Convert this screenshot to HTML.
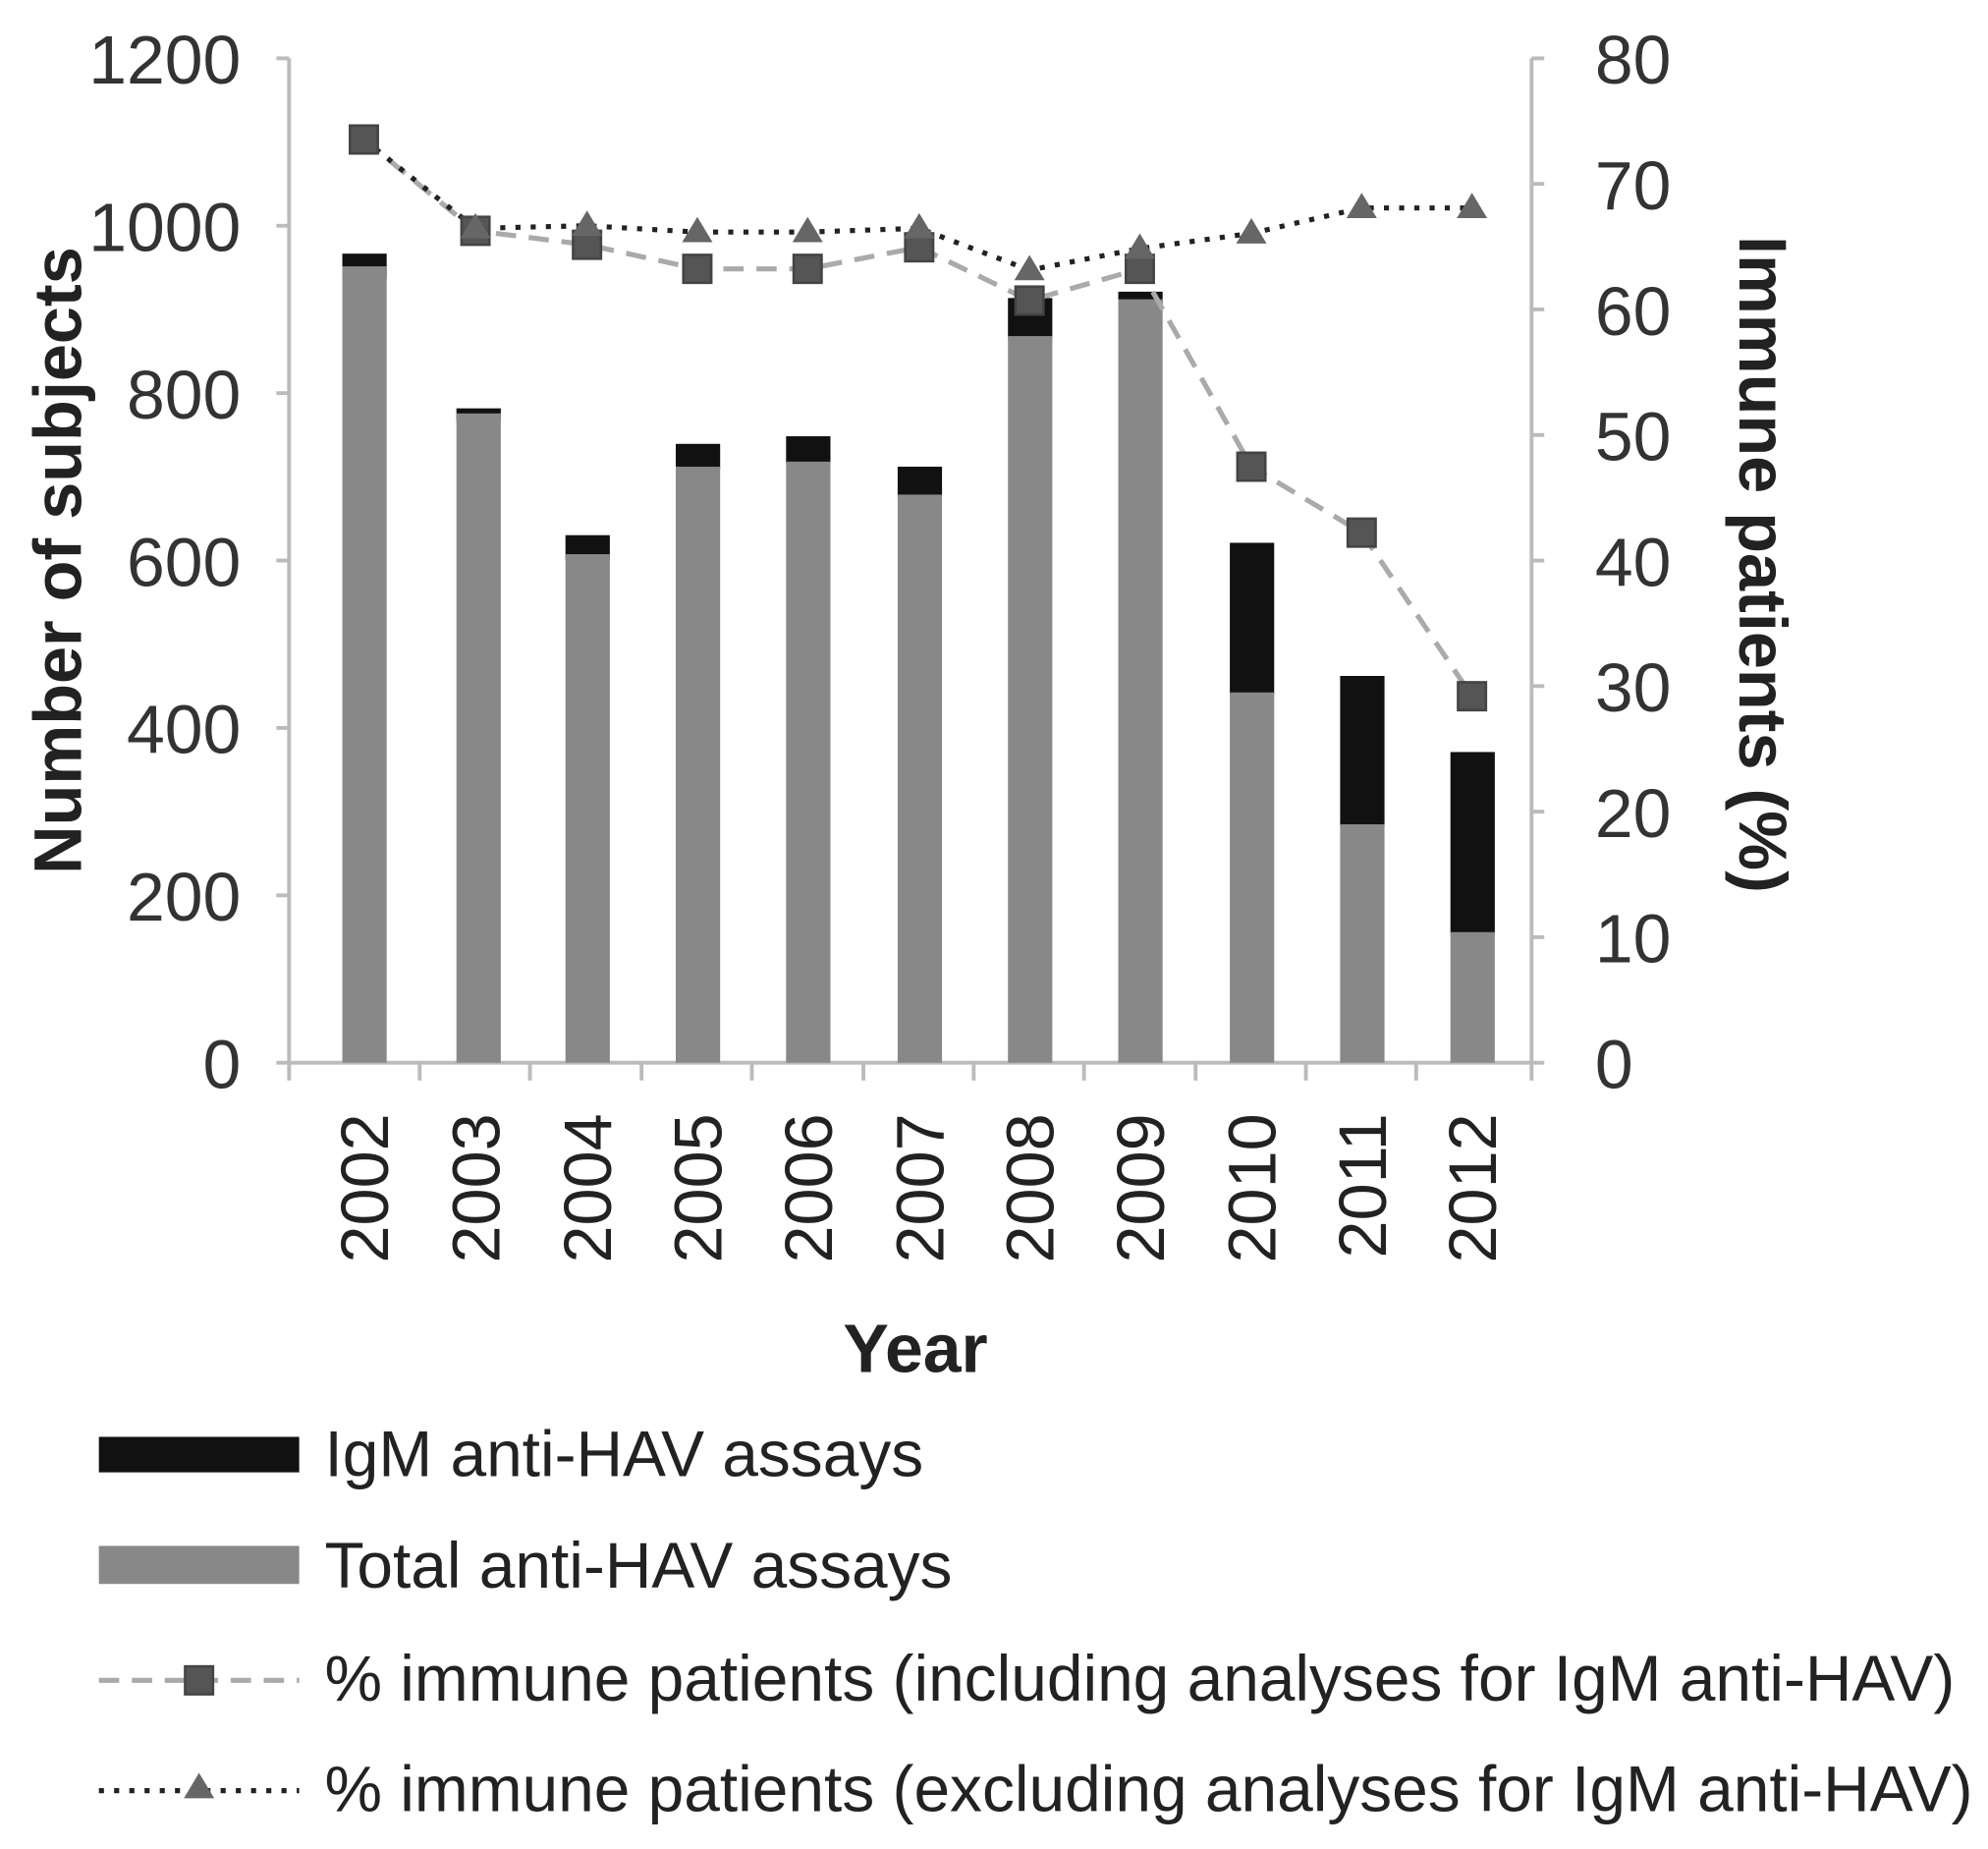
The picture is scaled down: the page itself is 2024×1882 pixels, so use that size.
<!DOCTYPE html>
<html><head><style>html,body{margin:0;padding:0;background:#fff}svg{display:block}</style></head>
<body>
<svg width="2024" height="1882" viewBox="0 0 1568 1458" preserveAspectRatio="none" xmlns="http://www.w3.org/2000/svg" font-family="Liberation Sans, sans-serif">
<g stroke="#bbb" stroke-width="3" fill="none">
<line x1="228" y1="46" x2="228" y2="852"/>
<line x1="1208" y1="46" x2="1208" y2="838"/>
<line x1="228" y1="838" x2="1208" y2="838"/>
<line x1="218" y1="46" x2="228" y2="46"/><line x1="218" y1="178" x2="228" y2="178"/><line x1="218" y1="310" x2="228" y2="310"/><line x1="218" y1="442" x2="228" y2="442"/><line x1="218" y1="574" x2="228" y2="574"/><line x1="218" y1="706" x2="228" y2="706"/><line x1="218" y1="838" x2="228" y2="838"/>
<line x1="1208" y1="46" x2="1218" y2="46"/><line x1="1208" y1="145" x2="1218" y2="145"/><line x1="1208" y1="244" x2="1218" y2="244"/><line x1="1208" y1="343" x2="1218" y2="343"/><line x1="1208" y1="442" x2="1218" y2="442"/><line x1="1208" y1="541" x2="1218" y2="541"/><line x1="1208" y1="640" x2="1218" y2="640"/><line x1="1208" y1="739" x2="1218" y2="739"/><line x1="1208" y1="838" x2="1218" y2="838"/>
<line x1="331" y1="838" x2="331" y2="852"/><line x1="418" y1="838" x2="418" y2="852"/><line x1="506" y1="838" x2="506" y2="852"/><line x1="593" y1="838" x2="593" y2="852"/><line x1="681" y1="838" x2="681" y2="852"/><line x1="768" y1="838" x2="768" y2="852"/><line x1="855" y1="838" x2="855" y2="852"/><line x1="943" y1="838" x2="943" y2="852"/><line x1="1030" y1="838" x2="1030" y2="852"/><line x1="1117" y1="838" x2="1117" y2="852"/><line x1="1208" y1="838" x2="1208" y2="852"/>
</g>
<g fill="#111">
<rect x="270" y="200" width="35" height="20"/><rect x="360" y="322" width="35" height="10"/>
<rect x="446" y="422" width="35" height="20"/><rect x="533" y="350" width="35" height="20"/>
<rect x="620" y="344" width="35" height="22"/><rect x="708" y="368" width="35" height="24"/>
<rect x="795" y="235" width="35" height="32"/><rect x="882" y="230" width="35" height="10"/>
<rect x="970" y="428" width="35" height="120"/><rect x="1057" y="533" width="35" height="119"/>
<rect x="1144" y="593" width="35" height="144"/>
</g>
<g fill="#888">
<rect x="270" y="210" width="35" height="628"/>
<rect x="360" y="326" width="35" height="512"/>
<rect x="446" y="437" width="35" height="401"/><rect x="533" y="368" width="35" height="470"/>
<rect x="620" y="364" width="35" height="474"/><rect x="708" y="390" width="35" height="448"/>
<rect x="795" y="265" width="35" height="573"/><rect x="882" y="236" width="35" height="602"/>
<rect x="970" y="546" width="35" height="292"/><rect x="1057" y="650" width="35" height="188"/>
<rect x="1144" y="735" width="35" height="103"/>
</g>
<polyline fill="none" stroke="#aaa" stroke-width="4" stroke-dasharray="16,10" points="287,110 375,182 463,193 550,212 637,212 725,195 812,237 899,212 987,368 1074,420 1161,549"/>
<polyline fill="none" stroke="#222" stroke-width="4" stroke-dasharray="4,8" points="287,110 375,180 463,178 550,183 637,183 725,180 812,213 899,196 987,184 1074,164 1161,164"/>
<g fill="#555" stroke="#444" stroke-width="2">
<rect x="276" y="99" width="22" height="22"/><rect x="364" y="171" width="22" height="22"/><rect x="452" y="182" width="22" height="22"/><rect x="539" y="201" width="22" height="22"/><rect x="626" y="201" width="22" height="22"/><rect x="714" y="184" width="22" height="22"/><rect x="801" y="226" width="22" height="22"/><rect x="888" y="201" width="22" height="22"/><rect x="976" y="357" width="22" height="22"/><rect x="1063" y="409" width="22" height="22"/><rect x="1150" y="538" width="22" height="22"/>
</g>
<g fill="#666">
<polygon points="375,168 387,188 363,188"/><polygon points="463,166 475,186 451,186"/><polygon points="550,171 562,191 538,191"/><polygon points="637,171 649,191 625,191"/><polygon points="725,168 737,188 713,188"/><polygon points="812,201 824,221 800,221"/><polygon points="899,184 911,204 887,204"/><polygon points="987,172 999,192 975,192"/><polygon points="1074,152 1086,172 1062,172"/><polygon points="1161,152 1173,172 1149,172"/>
</g>
<g font-size="54" fill="#333" text-anchor="end">
<text x="190" y="66">1200</text><text x="190" y="198">1000</text><text x="190" y="330">800</text><text x="190" y="462">600</text><text x="190" y="594">400</text><text x="190" y="726">200</text><text x="190" y="858">0</text>
</g>
<g font-size="54" fill="#333">
<text x="1258" y="66">80</text><text x="1258" y="165">70</text><text x="1258" y="264">60</text><text x="1258" y="363">50</text><text x="1258" y="462">40</text><text x="1258" y="561">30</text><text x="1258" y="660">20</text><text x="1258" y="759">10</text><text x="1258" y="858">0</text>
</g>
<g font-size="53" fill="#222" text-anchor="end">
<text transform="translate(306,878) rotate(-90)">2002</text><text transform="translate(394,878) rotate(-90)">2003</text><text transform="translate(482,878) rotate(-90)">2004</text><text transform="translate(569,878) rotate(-90)">2005</text><text transform="translate(656,878) rotate(-90)">2006</text><text transform="translate(744,878) rotate(-90)">2007</text><text transform="translate(831,878) rotate(-90)">2008</text><text transform="translate(918,878) rotate(-90)">2009</text><text transform="translate(1006,878) rotate(-90)">2010</text><text transform="translate(1093,878) rotate(-90)">2011</text><text transform="translate(1180,878) rotate(-90)">2012</text>
</g>
<text x="722" y="1082" font-size="54" font-weight="bold" text-anchor="middle" fill="#222">Year</text>
<text transform="translate(64,442) rotate(-90)" font-size="53" font-weight="bold" text-anchor="middle" fill="#222">Number of subjects</text>
<text transform="translate(1372,445) rotate(90)" font-size="53" font-weight="bold" text-anchor="middle" fill="#222">Immune patients (%)</text>
<rect x="78" y="1133" width="158" height="28" fill="#111"/>
<rect x="78" y="1219" width="158" height="30" fill="#888"/>
<line x1="78" y1="1325" x2="236" y2="1325" stroke="#aaa" stroke-width="4" stroke-dasharray="16,10"/>
<rect x="146" y="1314" width="22" height="22" fill="#555" stroke="#444" stroke-width="2"/>
<line x1="78" y1="1412" x2="236" y2="1412" stroke="#222" stroke-width="4" stroke-dasharray="4,8"/>
<polygon points="157,1398 169,1418 145,1418" fill="#666"/>
<g font-size="51" fill="#222">
<text x="256" y="1164">IgM anti-HAV assays</text>
<text x="256" y="1252">Total anti-HAV assays</text>
<text x="256" y="1341">% immune patients (including analyses for IgM anti-HAV)</text>
<text x="256" y="1428">% immune patients (excluding analyses for IgM anti-HAV)</text>
</g>
</svg>
</body></html>
